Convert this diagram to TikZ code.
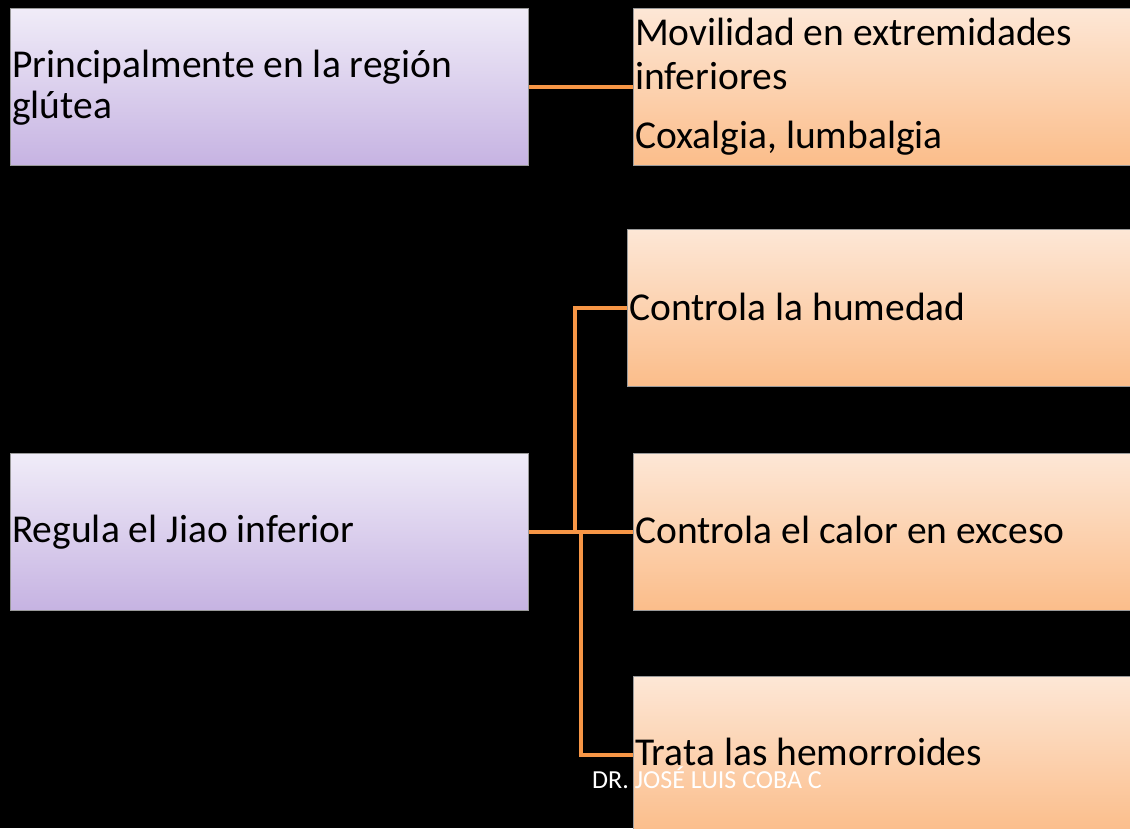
\documentclass[tikz,border=0pt]{standalone}
\usepackage{fontspec}
\setmainfont{Carlito}
\definecolor{ptop}{HTML}{F0ECF8}
\definecolor{pbot}{HTML}{C6B3E2}
\definecolor{otop}{HTML}{FDE7D6}
\definecolor{obot}{HTML}{FBBD8A}
\definecolor{conncol}{HTML}{F79646}
\definecolor{edge}{HTML}{9A9A9A}
\begin{document}
\begin{tikzpicture}[x=1pt,y=-1pt,
  pbox/.style={draw=edge,line width=0.8pt,top color=ptop,bottom color=pbot,anchor=north west,inner sep=0pt,minimum height=157pt},
  obox/.style={draw=edge,line width=0.8pt,top color=otop,bottom color=obot,anchor=north west,inner sep=0pt,minimum height=157pt},
  txt/.style={anchor=base west,inner sep=0pt,font=\fontsize{39.5}{44}\selectfont,text=black},
  foot/.style={anchor=base west,inner sep=0pt,font=\fontsize{26}{30}\selectfont,text=white},
  conn/.style={draw=conncol,line width=4pt}]
\fill[black] (0,0) rectangle (1130,828);
\useasboundingbox (0,0) rectangle (1130,828);
% boxes
\node[pbox,minimum width=518pt] (p1) at (10,8) {};
\node[obox,minimum width=510pt] (o1) at (633,8) {};
\node[obox,minimum width=516pt] (o2) at (627,229) {};
\node[pbox,minimum width=518pt] (p2) at (10,453) {};
\node[obox,minimum width=510pt] (o3) at (633,453) {};
\node[obox,minimum width=510pt] (o4) at (633,676) {};
% connectors
\coordinate (ja) at (575,0);
\coordinate (jb) at (581,0);
\draw[conn] (p1.east) -- (o1.west);
\draw[conn] (p2.east) -- (o3.west);
\draw[conn] (ja |- p2.east) |- (o2.west);
\draw[conn] (jb |- p2.east) |- (o4.west);
% texts
\node[txt] (t1a) at (12,77) {Principalmente en la región};
\node[txt] (t1b) at (12,118) {glútea};
\node[txt] (t2a) at (635,45) {Movilidad en extremidades};
\node[txt] (t2b) at (635,89) {inferiores};
\node[txt] (t2c) at (635,148) {Coxalgia, lumbalgia};
\node[txt] (t3) at (629,320) {Controla la humedad};
\node[txt] (t4) at (12,542) {Regula el Jiao inferior};
\node[txt] (t5) at (635,543) {Controla el calor en exceso};
\node[txt] (t6) at (635,765) {Trata las hemorroides};
\node[foot] (ft) at (592,788) {DR. JOSÉ LUIS COBA C};
\end{tikzpicture}
\end{document}
